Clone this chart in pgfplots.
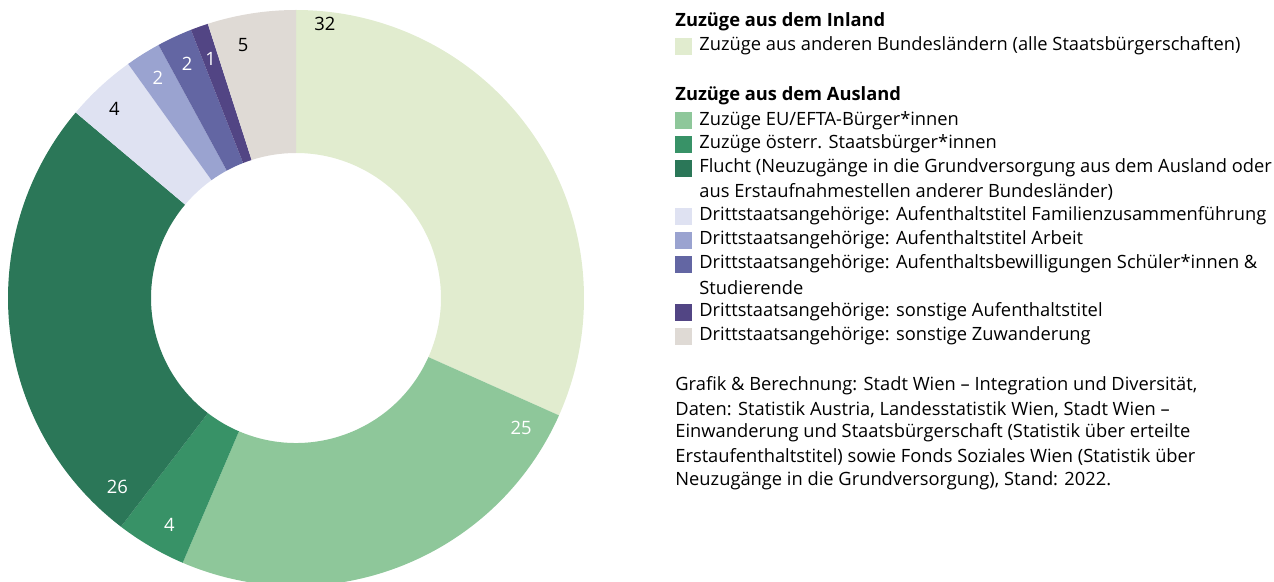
\documentclass[border=0pt]{standalone}
\usepackage{pgfplots}
\pgfplotsset{compat=1.18}
\usepackage{pgfplotstable}
\usepackage{fontspec}
\setmainfont{Open Sans}

\definecolor{col0}{RGB}{225,236,207}
\definecolor{col1}{RGB}{142,199,154}
\definecolor{col2}{RGB}{56,146,103}
\definecolor{col3}{RGB}{43,119,88}
\definecolor{col4}{RGB}{223,226,242}
\definecolor{col5}{RGB}{154,163,208}
\definecolor{col6}{RGB}{99,102,163}
\definecolor{col7}{RGB}{82,69,132}
\definecolor{col8}{RGB}{223,218,213}

% shares in percent, clockwise from 12 o'clock; lr = label radius (px)
\pgfplotstableread{
val lc lr
32 black 276
25 white 260
4 white 260
26 white 260
4 black 262
2 white 260
2 white 258
1 white 254
5 black 258
}\donut

% donut geometry (pixel coords, 1px = 0.5pt)
\def\cx{296}\def\cy{298}
\def\Rout{144pt}\def\Rin{72.5pt}

\newcommand\lbl{\fontsize{9.2}{10}\selectfont}
\newcommand\txt{\fontsize{9.15}{12}\selectfont}

\def\total{0}
\pgfplotsforeachungrouped \i in {0,...,8}{%
  \pgfplotstablegetelem{\i}{val}\of\donut
  \pgfmathsetmacro\total{\total+\pgfplotsretval}%
}
\def\cum{0}
\def\slices{}
\pgfplotsforeachungrouped \i in {0,...,8}{%
  \pgfplotstablegetelem{\i}{val}\of\donut
  \let\val\pgfplotsretval
  \pgfmathsetmacro\sa{90-360*(\cum/\total)}%
  \pgfmathsetmacro\cum{\cum+\val}%
  \pgfmathsetmacro\ea{90-360*(\cum/\total)}%
  \pgfmathsetmacro\la{\sa-min(6,180*(\val/\total))}%
  \pgfplotstablegetelem{\i}{lc}\of\donut
  \let\lc\pgfplotsretval
  \pgfplotstablegetelem{\i}{lr}\of\donut
  \pgfmathsetmacro\lr{\pgfplotsretval/2}%
  \xdef\slices{\unexpanded\expandafter{\slices}%
    \noexpand\fill[col\i] ([shift={(\sa:\Rout)}]axis cs:\cx,\cy)
      arc[start angle=\sa, end angle=\ea, radius=\Rout]
      -- ([shift={(\ea:\Rin)}]axis cs:\cx,\cy)
      arc[start angle=\ea, end angle=\sa, radius=\Rin] -- cycle;
    \noexpand\node[inner sep=0pt, text=\lc, font=\noexpand\lbl] at ([shift={(\la:\lr pt)}]axis cs:\cx,\cy) {\val};
  }%
}

\begin{document}
\begin{tikzpicture}
\begin{axis}[
  x=0.5pt, y=0.5pt,
  xmin=0, xmax=1274, ymin=0, ymax=582,
  y dir=reverse,
  hide axis,
  clip=true,
]
\slices

% legend
\tikzset{lt/.style={anchor=west, inner sep=0pt, font=\txt}}
\node[lt, font=\txt\bfseries] at (axis cs:675,22) {Zuzüge aus dem Inland};
\fill[col0] (axis cs:675,38) rectangle (axis cs:692,55);
\node[lt] at (axis cs:699,46) {Zuzüge aus anderen Bundesländern (alle Staatsbürgerschaften)};

\node[lt, font=\txt\bfseries] at (axis cs:675,96) {Zuzüge aus dem Ausland};
\fill[col1] (axis cs:675,112) rectangle (axis cs:692,129);
\node[lt] at (axis cs:699,121) {Zuzüge EU/EFTA-Bürger*innen};
\fill[col2] (axis cs:675,136) rectangle (axis cs:692,153);
\node[lt] at (axis cs:699,144) {Zuzüge österr. Staatsbürger*innen};
\fill[col3] (axis cs:675,160) rectangle (axis cs:692,177);
\node[lt] at (axis cs:699,168) {Flucht (Neuzugänge in die Grundversorgung aus dem Ausland oder};
\node[lt] at (axis cs:699,192) {aus Erstaufnahmestellen anderer Bundesländer)};
\fill[col4] (axis cs:675,208) rectangle (axis cs:692,225);
\node[lt] at (axis cs:699,216) {Drittstaatsangehörige: Aufenthaltstitel Familienzusammenführung};
\fill[col5] (axis cs:675,232) rectangle (axis cs:692,249);
\node[lt] at (axis cs:699,240) {Drittstaatsangehörige: Aufenthaltstitel Arbeit};
\fill[col6] (axis cs:675,256) rectangle (axis cs:692,273);
\node[lt] at (axis cs:699,264) {Drittstaatsangehörige: Aufenthaltsbewilligungen Schüler*innen \&};
\node[lt] at (axis cs:699,288) {Studierende};
\fill[col7] (axis cs:675,304) rectangle (axis cs:692,321);
\node[lt] at (axis cs:699,312) {Drittstaatsangehörige: sonstige Aufenthaltstitel};
\fill[col8] (axis cs:675,328) rectangle (axis cs:692,345);
\node[lt] at (axis cs:699,336) {Drittstaatsangehörige: sonstige Zuwanderung};

% source
\node[lt] at (axis cs:675,386) {Grafik \& Berechnung: Stadt Wien – Integration und Diversität,};
\node[lt] at (axis cs:675,410) {Daten: Statistik Austria, Landesstatistik Wien, Stadt Wien –};
\node[lt] at (axis cs:675,433) {Einwanderung und Staatsbürgerschaft (Statistik über erteilte};
\node[lt] at (axis cs:675,457) {Erstaufenthaltstitel) sowie Fonds Soziales Wien (Statistik über};
\node[lt] at (axis cs:675,481) {Neuzugänge in die Grundversorgung), Stand: 2022.};
\end{axis}
\pgfresetboundingbox
\path (current axis.south west) rectangle (current axis.north east);
\end{tikzpicture}
\end{document}
